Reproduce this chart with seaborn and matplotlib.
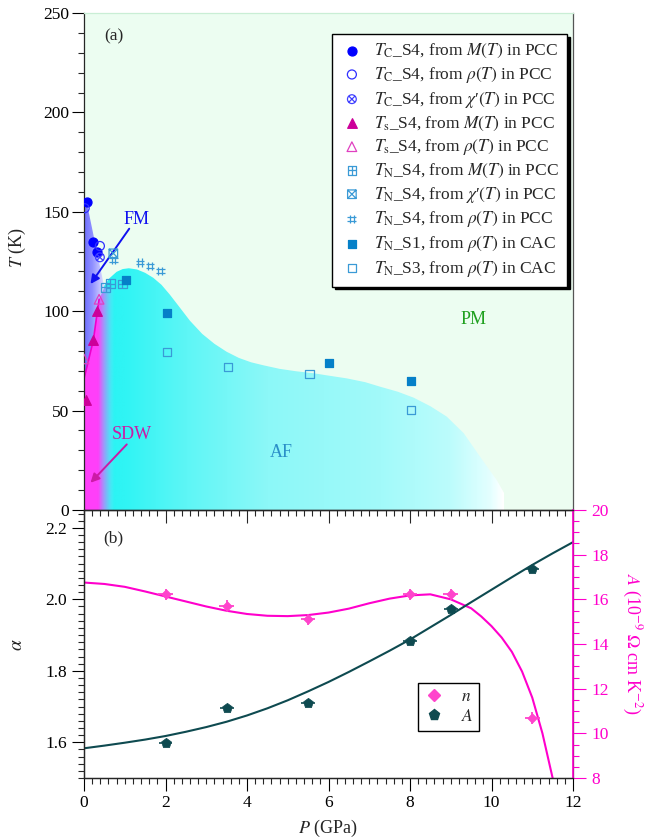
import numpy as np
import pandas as pd
import matplotlib
matplotlib.use("Agg")
import matplotlib.pyplot as plt
import seaborn as sns
from matplotlib.colors import LinearSegmentedColormap
from matplotlib.patches import Polygon
from matplotlib.path import Path
from matplotlib.lines import Line2D
from matplotlib.ticker import MultipleLocator, FixedLocator, FormatStrFormatter

# ---------------- (a) phase diagram data ----------------
tc_m_p, tc_m_t = [0.065, 0.21, 0.31], [154.8, 135.0, 130.0]
tc_rho_p, tc_rho_t = [0.016, 0.39], [151.8, 132.8]
tc_chi_p, tc_chi_t = [0.39], [127.1]
ts_m_p, ts_m_t = [0.06, 0.23, 0.33], [55.3, 85.5, 100.3]
ts_rho_p, ts_rho_t = [0.0, 0.37], [76.0, 106.0]
tn_m_p, tn_m_t = [0.53, 0.65, 0.94], [112.0, 113.8, 113.7]
tn_chi_p, tn_chi_t = [0.72], [129.1]
tn_rho_p, tn_rho_t = [0.72, 1.375, 1.62, 1.87], [125.8, 124.4, 122.7, 120.2]
tn_s1_p, tn_s1_t = [1.02, 2.03, 6.02, 8.02], [115.8, 98.9, 73.8, 64.9]
tn_s3_p, tn_s3_t = [2.03, 3.53, 5.53, 8.02], [79.6, 71.8, 68.4, 50.3]

# guide line through the SDW transition
ts_line_p, ts_line_t = [0.0, 0.23, 0.33, 0.37], [66.0, 85.5, 100.3, 106.0]

# phase boundaries used for the shaded regions
af_p = [0.0, 0.3, 0.47, 0.62, 0.8, 0.95, 1.1, 1.3, 1.5, 1.7, 1.9, 2.1, 2.3, 2.6, 2.9,
        3.2, 3.5, 3.8, 4.1, 4.4, 4.8, 5.2, 5.63, 6.0, 6.45, 6.9, 7.27, 7.7, 8.09,
        8.5, 8.9, 9.32, 9.72, 10.13, 10.35, 10.5]
af_t = [100.0, 106.0, 112.0, 116.5, 119.8, 121.2, 121.6, 121.0, 119.3, 116.8, 113.3,
        108.5, 103.2, 95.2, 88.6, 83.6, 79.6, 76.5, 74.3, 72.8, 71.0, 69.8, 68.8,
        67.6, 66.2, 64.3, 62.0, 59.5, 56.5, 52.2, 47.0, 38.6, 26.8, 15.0, 7.0, 0.0]
fm_p = [0.0, 0.0, 0.065, 0.5, 0.37, 0.33, 0.23, 0.0]
fm_t = [66.0, 155.0, 154.8, 112.0, 106.0, 100.3, 85.5, 66.0]
sdw_p = [0.0, 0.0, 0.23, 0.33, 0.37, 0.5, 0.9, 0.9]
sdw_t = [0.0, 66.0, 85.5, 100.3, 106.0, 112.0, 112.0, 0.0]

# ---------------- (b) exponent and coefficient ----------------
p_b = [2.0, 3.5, 5.5, 8.0, 9.0, 11.0]
n_vals = [2.014, 1.981, 1.944, 2.014, 2.014, 1.668]
a_vals = [9.55, 11.15, 11.37, 14.15, 15.55, 17.34]

n_fit_p = [0, 0.5, 1, 1.5, 2, 2.5, 3, 3.5, 4, 4.5, 5, 5.5, 6, 6.5, 7, 7.5, 8, 8.5,
           9, 9.5, 9.75, 10, 10.25, 10.5, 10.75, 11, 11.25, 11.5]
n_fit = [2.047, 2.043, 2.035, 2.022, 2.008, 1.994, 1.98, 1.968, 1.959, 1.954, 1.953,
         1.956, 1.963, 1.974, 1.989, 2.002, 2.011, 2.014, 2.0, 1.975, 1.952, 1.925,
         1.893, 1.853, 1.798, 1.725, 1.625, 1.50]
a_fit_p = [0, 0.5, 1, 1.5, 2, 2.5, 3, 3.5, 4, 4.5, 5, 5.5, 6, 6.5, 7, 7.5, 8, 8.5,
           9, 9.5, 10, 10.5, 11, 11.5, 12]
a_fit = [9.33, 9.45, 9.58, 9.72, 9.88, 10.07, 10.28, 10.52, 10.8, 11.12, 11.48,
         11.88, 12.3, 12.75, 13.22, 13.7, 14.2, 14.75, 15.3, 15.87, 16.43, 16.99,
         17.54, 18.06, 18.56]

# ---------------- style ----------------
sns.set_theme(style="ticks")
plt.rcParams["font.family"] = ["Liberation Serif", "DejaVu Serif"]
plt.rcParams["mathtext.fontset"] = "stix"
plt.rcParams["axes.linewidth"] = 0.9
FS = 12.5

MAG = "#ff00cc"
TEAL = "#0e4a50"
N_COL = "#ff44cc"

fig = plt.figure(figsize=(6.48, 8.4), dpi=100)
W, H = 648.0, 840.0
ax_a = fig.add_axes([84 / W, 1 - 510 / H, 489 / W, 497 / H])
ax_b = fig.add_axes([84 / W, 1 - 778 / H, 489 / W, 268 / H])
ax_b.set_facecolor("none")


def gradient_region(ax, xs, ys, stops, x0, x1, y1, z):
    poly = Polygon(np.column_stack([xs, ys]), closed=True, facecolor="none",
                   edgecolor="none", transform=ax.transData)
    ax.add_patch(poly)
    cmap = LinearSegmentedColormap.from_list(
        "g", [((p - x0) / (x1 - x0), c) for p, c in stops])
    grad = np.linspace(0, 1, 600)[None, :]
    im = ax.imshow(grad, cmap=cmap, extent=(x0, x1, 0, y1), aspect="auto",
                   origin="lower", interpolation="bilinear", zorder=z)
    im.set_clip_path(poly)


def marker_path(kind):
    if kind == "circx":
        c = Path.unit_circle()
        d = 0.7071
        return Path.make_compound_path(
            c, Path([(-d, -d), (d, d)], [1, 2]), Path([(-d, d), (d, -d)], [1, 2]))
    sq = Path([(-1, -1), (1, -1), (1, 1), (-1, 1), (-1, -1)], [1, 2, 2, 2, 79])
    if kind == "sqplus":
        return Path.make_compound_path(
            sq, Path([(-1, 0), (1, 0)], [1, 2]), Path([(0, -1), (0, 1)], [1, 2]))
    if kind == "sqx":
        return Path.make_compound_path(
            sq, Path([(-1, -1), (1, 1)], [1, 2]), Path([(-1, 1), (1, -1)], [1, 2]))
    if kind == "hash":
        return Path.make_compound_path(
            Path([(-0.4, -1), (-0.4, 1)], [1, 2]), Path([(0.4, -1), (0.4, 1)], [1, 2]),
            Path([(-1, -0.4), (1, -0.4)], [1, 2]), Path([(-1, 0.4), (1, 0.4)], [1, 2]))


# ---------------- panel (a) ----------------
ax_a.set_facecolor("#ecfdf1")
ax_a.set_xlim(0, 12)
ax_a.set_ylim(0, 250)

gradient_region(ax_a, [0.0] + af_p + [10.5], [0.0] + af_t + [0.0],
                [(0.0, "#22f4f4"), (1.0, "#30f4f4"), (2.5, "#5ef6f6"),
                 (4.5, "#8cf8f8"), (7.3, "#a2fafa"), (9.0, "#bcfcfc"),
                 (10.0, "#e4ffff"), (10.3, "#ffffff")], 0.0, 10.3, 125, 0.5)
gradient_region(ax_a, sdw_p, sdw_t,
                [(0.0, (1, 0.25, 0.98, 1)), (0.35, (1, 0.25, 0.98, 1)),
                 (0.55, (0.85, 0.45, 1, 0.45)), (0.75, (0.6, 0.9, 1, 0.0)),
                 (0.9, (0.6, 0.9, 1, 0.0))], 0.0, 0.9, 112, 0.6)
gradient_region(ax_a, fm_p, fm_t,
                [(0.0, "#6e6eff"), (0.2, "#9090ff"), (0.4, "#c8c8ff"),
                 (0.5, "#e6e6ff")], 0.0, 0.5, 156, 0.7)

sns.lineplot(x=ts_line_p, y=ts_line_t, ax=ax_a, color="#ee00cc", lw=1.2,
             estimator=None, sort=False, zorder=2)

C_TC = "#0000ff"
C_TS = "#cc0099"
C_TN = "#3a9ad6"
C_S1 = "#0580c8"

specs = [
    (tc_m_p, tc_m_t, "o", C_TC, C_TC, 42, r"$T_{\mathrm{C}}$_S4, from $M(T)$ in PCC"),
    (tc_rho_p, tc_rho_t, "o", "none", "#3030ff", 42, r"$T_{\mathrm{C}}$_S4, from $\rho(T)$ in PCC"),
    (tc_chi_p, tc_chi_t, marker_path("circx"), "none", "#4040ff", 40, r"$T_{\mathrm{C}}$_S4, from $\chi$′$(T)$ in PCC"),
    (ts_m_p, ts_m_t, "^", C_TS, C_TS, 48, r"$T_{\mathrm{s}}$_S4, from $M(T)$ in PCC"),
    (ts_rho_p, ts_rho_t, "^", "none", "#e040c0", 48, r"$T_{\mathrm{s}}$_S4, from $\rho(T)$ in PCC"),
    (tn_m_p, tn_m_t, marker_path("sqplus"), "none", C_TN, 38, r"$T_{\mathrm{N}}$_S4, from $M(T)$ in PCC"),
    (tn_chi_p, tn_chi_t, marker_path("sqx"), "none", C_TN, 38, r"$T_{\mathrm{N}}$_S4, from $\chi$′$(T)$ in PCC"),
    (tn_rho_p, tn_rho_t, marker_path("hash"), "none", C_TN, 40, r"$T_{\mathrm{N}}$_S4, from $\rho(T)$ in PCC"),
    (tn_s1_p, tn_s1_t, "s", C_S1, C_S1, 36, r"$T_{\mathrm{N}}$_S1, from $\rho(T)$ in CAC"),
    (tn_s3_p, tn_s3_t, "s", "none", C_TN, 36, r"$T_{\mathrm{N}}$_S3, from $\rho(T)$ in CAC"),
]
for xs, ys, mk, fc, ec, s, lab in specs:
    sns.scatterplot(x=xs, y=ys, ax=ax_a, marker=mk, s=s, facecolors=fc,
                    edgecolors=ec, linewidth=0.9, label=lab, zorder=4)

leg = ax_a.legend(loc="upper right", bbox_to_anchor=(0.988, 0.957), fontsize=FS,
                  frameon=True, fancybox=False, framealpha=1, edgecolor="black",
                  shadow={"color": "black", "alpha": 1.0}, borderpad=0.45,
                  labelspacing=0.27, handletextpad=0.6, handlelength=1.4,
                  borderaxespad=0)
leg.get_frame().set_linewidth(1.0)

ax_a.text(0.74, 238, "(a)", fontsize=FS, ha="center", va="center")
ax_a.text(1.29, 146, "FM", fontsize=13, color="#1010f0", ha="center", va="center")
ax_a.annotate("", xy=(0.16, 113.7), xytext=(1.11, 141.5),
              arrowprops=dict(arrowstyle="-|>", color="#1010f0", lw=1.4,
                              mutation_scale=13, shrinkA=0, shrinkB=0))
ax_a.text(1.17, 38.2, "SDW", fontsize=13, color="#cc1aa6", ha="center", va="center")
ax_a.annotate("", xy=(0.16, 13.7), xytext=(1.05, 33.0),
              arrowprops=dict(arrowstyle="-|>", color="#cc1aa6", lw=1.4,
                              mutation_scale=13, shrinkA=0, shrinkB=0))
ax_a.text(4.84, 29, "AF", fontsize=13, color="#2a8fc8", ha="center", va="center")
ax_a.text(9.56, 95.6, "PM", fontsize=13, color="#1fa01f", ha="center", va="center")

ax_a.yaxis.set_major_locator(MultipleLocator(50))
ax_a.yaxis.set_minor_locator(MultipleLocator(10))
ax_a.xaxis.set_major_locator(MultipleLocator(2))
ax_a.xaxis.set_minor_locator(MultipleLocator(0.2))
ax_a.tick_params(axis="y", which="major", direction="out", length=8.5, width=0.8,
                 labelsize=FS, pad=2, colors="black")
ax_a.tick_params(axis="y", which="minor", direction="out", length=4.5, width=0.8)
# ticks on the shared boundary hang down into the lower panel
ax_a.tick_params(axis="x", which="major", direction="out", length=9, width=0.8,
                 bottom=True, labelbottom=False)
ax_a.tick_params(axis="x", which="minor", direction="out", length=4.5, width=0.8,
                 bottom=True)
ax_a.spines["top"].set_color("#c9eed5")
ax_a.spines["right"].set_color("#555555")
ax_a.set_xlabel("")
ax_a.set_ylabel("")

# ---------------- panel (b) ----------------
ax_b.set_xlim(0, 12)
ax_b.set_ylim(1.5, 2.25)
ax_r = ax_b.twinx()
ax_r.set_ylim(8, 20)

sns.lineplot(x=n_fit_p, y=n_fit, ax=ax_b, color=MAG, lw=1.5, estimator=None,
             sort=False, zorder=2)
ax_b.errorbar(p_b, n_vals, xerr=0.18, yerr=0.016, fmt="none", ecolor=N_COL,
              elinewidth=1.3, capsize=0, zorder=3)
sns.scatterplot(x=p_b, y=n_vals, ax=ax_b, marker="D", s=24, color=N_COL,
                edgecolor=N_COL, linewidth=0.5, zorder=4)

sns.lineplot(x=a_fit_p, y=a_fit, ax=ax_r, color=TEAL, lw=1.5, estimator=None,
             sort=False, zorder=2)
ax_r.errorbar(p_b, a_vals, xerr=0.17, fmt="none", ecolor=TEAL, elinewidth=1.2,
              capsize=0, zorder=3)
sns.scatterplot(x=p_b, y=a_vals, ax=ax_r, marker="p", s=55, color=TEAL,
                edgecolor=TEAL, linewidth=0.5, zorder=4)

handles = [Line2D([], [], ls="none", marker="D", ms=6, color=N_COL),
           Line2D([], [], ls="none", marker="p", ms=8, color=TEAL)]
leg_b = ax_r.legend(handles, [r"$n$", r"$A$"], loc="upper left",
                    bbox_to_anchor=(0.683, 0.355), fontsize=FS, frameon=True,
                    fancybox=False, framealpha=1, edgecolor="black",
                    borderpad=0.35, labelspacing=0.2, handletextpad=0.9,
                    handlelength=1.2, borderaxespad=0)
leg_b.get_frame().set_linewidth(1.0)

ax_b.text(0.72, 2.171, "(b)", fontsize=FS, ha="center", va="center")

ax_b.xaxis.set_major_locator(MultipleLocator(2))
ax_b.xaxis.set_minor_locator(MultipleLocator(0.2))
ax_b.yaxis.set_major_locator(FixedLocator([1.6, 1.8, 2.0, 2.2]))
ax_b.yaxis.set_minor_locator(MultipleLocator(0.02))
ax_b.yaxis.set_major_formatter(FormatStrFormatter("%.1f"))
ax_b.tick_params(axis="both", which="major", length=9, width=0.8, labelsize=FS,
                 pad=3, colors="black", direction="out")
ax_b.tick_params(axis="both", which="minor", length=4.5, width=0.8, direction="out")
ax_b.tick_params(axis="x", which="both", top=False)
ax_b.tick_params(axis="y", which="both", right=False)
ax_b.set_xlabel("")
ax_b.set_ylabel("")

ax_r.yaxis.set_major_locator(MultipleLocator(2))
ax_r.yaxis.set_minor_locator(MultipleLocator(0.5))
ax_r.tick_params(axis="y", which="major", direction="out", length=9, width=0.8,
                 labelsize=FS, colors=MAG, pad=4)
ax_r.tick_params(axis="y", which="minor", direction="out", length=4.5, width=0.8,
                 colors=MAG)
ax_r.spines["right"].set_color(MAG)
ax_r.spines["right"].set_linewidth(1.2)
ax_r.set_ylabel("")

# axis titles
fig.text(17 / W, 1 - 248 / H, r"$T$ (K)", rotation=90, ha="center", va="center",
         fontsize=13)
fig.text(18 / W, 1 - 645 / H, r"$\alpha$", rotation=90, ha="center", va="center",
         fontsize=14)
fig.text(632 / W, 1 - 644 / H, r"$A$ (10$^{-9}$ $\Omega$ cm K$^{-2}$)", rotation=270,
         ha="center", va="center", fontsize=13, color=MAG)
fig.text(328 / W, 1 - 828 / H, r"$P$ (GPa)", ha="center", va="center", fontsize=13)

fig.savefig("out.png", dpi=100)
